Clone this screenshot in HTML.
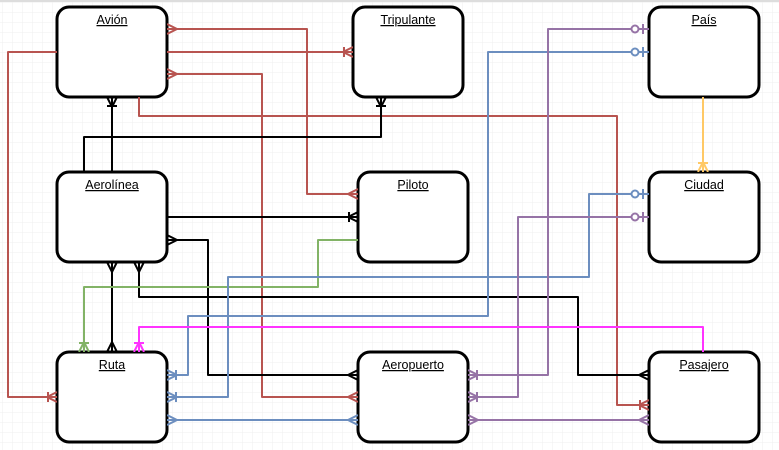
<!DOCTYPE html>
<html><head><meta charset="utf-8"><style>
html,body{margin:0;padding:0;background:#fff;}
svg{display:block;}
text{font-family:"Liberation Sans",Arial,sans-serif;font-size:12.5px;text-decoration:underline;}
</style></head><body>
<svg width="779" height="450" viewBox="0 0 779 450" xmlns="http://www.w3.org/2000/svg">
<defs>
<pattern id="g" width="10" height="10" patternUnits="userSpaceOnUse" x="3" y="3">
<path d="M10,0 V10 M0,10 H10" fill="none" stroke="#efefef" stroke-width="1"/>
</pattern>
<marker id="mR" viewBox="0 0 14 12" refX="14" refY="6" markerWidth="14" markerHeight="12" markerUnits="userSpaceOnUse" orient="auto-start-reverse"><path d="M14,1 L4,6 L14,11 M4,6 H14" fill="none" stroke="#b85450" stroke-width="2"/></marker>
<marker id="omR" viewBox="0 0 14 12" refX="14" refY="6" markerWidth="14" markerHeight="12" markerUnits="userSpaceOnUse" orient="auto-start-reverse"><path d="M14,1 L4,6 L14,11 M4,6 H14 M5,1 V11" fill="none" stroke="#b85450" stroke-width="2"/></marker>
<marker id="mK" viewBox="0 0 14 12" refX="14" refY="6" markerWidth="14" markerHeight="12" markerUnits="userSpaceOnUse" orient="auto-start-reverse"><path d="M14,1 L4,6 L14,11 M4,6 H14" fill="none" stroke="#000" stroke-width="2"/></marker>
<marker id="omK" viewBox="0 0 14 12" refX="14" refY="6" markerWidth="14" markerHeight="12" markerUnits="userSpaceOnUse" orient="auto-start-reverse"><path d="M14,1 L4,6 L14,11 M4,6 H14 M5,1 V11" fill="none" stroke="#000" stroke-width="2"/></marker>
<marker id="omG" viewBox="0 0 14 12" refX="14" refY="6" markerWidth="14" markerHeight="12" markerUnits="userSpaceOnUse" orient="auto-start-reverse"><path d="M14,1 L4,6 L14,11 M4,6 H14 M5,1 V11" fill="none" stroke="#82b366" stroke-width="2"/></marker>
<marker id="mB" viewBox="0 0 14 12" refX="14" refY="6" markerWidth="14" markerHeight="12" markerUnits="userSpaceOnUse" orient="auto-start-reverse"><path d="M14,1 L4,6 L14,11 M4,6 H14" fill="none" stroke="#6c8ebf" stroke-width="2"/></marker>
<marker id="omB" viewBox="0 0 14 12" refX="14" refY="6" markerWidth="14" markerHeight="12" markerUnits="userSpaceOnUse" orient="auto-start-reverse"><path d="M14,1 L4,6 L14,11 M4,6 H14 M5,1 V11" fill="none" stroke="#6c8ebf" stroke-width="2"/></marker>
<marker id="zB" viewBox="0 0 20 12" refX="20" refY="6" markerWidth="20" markerHeight="12" markerUnits="userSpaceOnUse" orient="auto-start-reverse"><circle cx="6" cy="6" r="3.5" fill="#fff" stroke="#6c8ebf" stroke-width="2"/><path d="M14,1 V11 M9.5,6 H20" fill="none" stroke="#6c8ebf" stroke-width="2"/></marker>
<marker id="mP" viewBox="0 0 14 12" refX="14" refY="6" markerWidth="14" markerHeight="12" markerUnits="userSpaceOnUse" orient="auto-start-reverse"><path d="M14,1 L4,6 L14,11 M4,6 H14" fill="none" stroke="#9673a6" stroke-width="2"/></marker>
<marker id="omP" viewBox="0 0 14 12" refX="14" refY="6" markerWidth="14" markerHeight="12" markerUnits="userSpaceOnUse" orient="auto-start-reverse"><path d="M14,1 L4,6 L14,11 M4,6 H14 M5,1 V11" fill="none" stroke="#9673a6" stroke-width="2"/></marker>
<marker id="zP" viewBox="0 0 20 12" refX="20" refY="6" markerWidth="20" markerHeight="12" markerUnits="userSpaceOnUse" orient="auto-start-reverse"><circle cx="6" cy="6" r="3.5" fill="#fff" stroke="#9673a6" stroke-width="2"/><path d="M14,1 V11 M9.5,6 H20" fill="none" stroke="#9673a6" stroke-width="2"/></marker>
<marker id="omM" viewBox="0 0 14 12" refX="14" refY="6" markerWidth="14" markerHeight="12" markerUnits="userSpaceOnUse" orient="auto-start-reverse"><path d="M14,1 L4,6 L14,11 M4,6 H14 M5,1 V11" fill="none" stroke="#ff33ff" stroke-width="2"/></marker>
<marker id="omO" viewBox="0 0 14 12" refX="14" refY="6" markerWidth="14" markerHeight="12" markerUnits="userSpaceOnUse" orient="auto-start-reverse"><path d="M14,1 L4,6 L14,11 M4,6 H14 M5,1 V11" fill="none" stroke="#ffc966" stroke-width="2"/></marker>
</defs>
<rect width="779" height="450" fill="url(#g)"/>
<rect width="779" height="2" fill="#ddd"/>

<g fill="#fff" stroke="#000" stroke-width="3">
<rect x="57" y="7" width="110" height="90" rx="12"/>
<rect x="353" y="7" width="110" height="90" rx="12"/>
<rect x="649" y="7" width="110" height="90" rx="12"/>
<rect x="57" y="172" width="110" height="90" rx="12"/>
<rect x="358" y="172" width="110" height="90" rx="12"/>
<rect x="649" y="172" width="110" height="90" rx="12"/>
<rect x="57" y="352" width="110" height="90" rx="12"/>
<rect x="358" y="352" width="110" height="90" rx="12"/>
<rect x="649" y="352" width="110" height="90" rx="12"/>
</g>
<g text-anchor="middle" fill="#000">
<text x="112" y="24">Avión</text>
<text x="408" y="24">Tripulante</text>
<text x="704" y="24">País</text>
<text x="112" y="189">Aerolínea</text>
<text x="413" y="189">Piloto</text>
<text x="704" y="189">Ciudad</text>
<text x="112" y="369">Ruta</text>
<text x="413" y="369">Aeropuerto</text>
<text x="704" y="369">Pasajero</text>
</g>

<g fill="none" stroke-width="2" stroke-linejoin="round">
<g stroke="#b85450">
<path d="M167,29 H307 V194 H358" marker-start="url(#mR)" marker-end="url(#mR)"/>
<path d="M167,52 H353" marker-end="url(#omR)"/>
<path d="M167,74 H262 V397 H358" marker-start="url(#mR)" marker-end="url(#mR)"/>
<path d="M139,97 V116 H617 V405 H649" marker-end="url(#omR)"/>
<path d="M57,52 H8 V397 H57" marker-end="url(#omR)"/>
</g>
<g stroke="#000">
<path d="M112,172 V97" marker-end="url(#omK)"/>
<path d="M84,172 V137 H381 V97" marker-end="url(#omK)"/>
<path d="M167,217 H358" marker-end="url(#omK)"/>
<path d="M167,240 H208 V375 H358" marker-start="url(#mK)" marker-end="url(#mK)"/>
<path d="M112,262 V352" marker-start="url(#mK)" marker-end="url(#mK)"/>
<path d="M139,262 V297 H578 V375 H649" marker-start="url(#mK)" marker-end="url(#mK)"/>
</g>
<path stroke="#82b366" d="M358,240 H318 V287 H84 V352" marker-end="url(#omG)"/>
<g stroke="#6c8ebf">
<path d="M649,52 H488 V316 H188 V375 H167" marker-start="url(#zB)" marker-end="url(#omB)"/>
<path d="M649,194 H589 V277 H228 V397 H167" marker-start="url(#zB)" marker-end="url(#omB)"/>
<path d="M167,420 H358" marker-start="url(#mB)" marker-end="url(#mB)"/>
</g>
<g stroke="#9673a6">
<path d="M649,29 H548 V375 H468" marker-start="url(#zP)" marker-end="url(#omP)"/>
<path d="M649,217 H518 V397 H468" marker-start="url(#zP)" marker-end="url(#omP)"/>
<path d="M468,420 H649" marker-start="url(#mP)" marker-end="url(#mP)"/>
</g>
<path stroke="#ff33ff" d="M703,352 V327 H139 V352" marker-end="url(#omM)"/>
<path stroke="#ffc966" d="M703,97 V172" marker-end="url(#omO)"/>
</g>
</svg>
</body></html>
